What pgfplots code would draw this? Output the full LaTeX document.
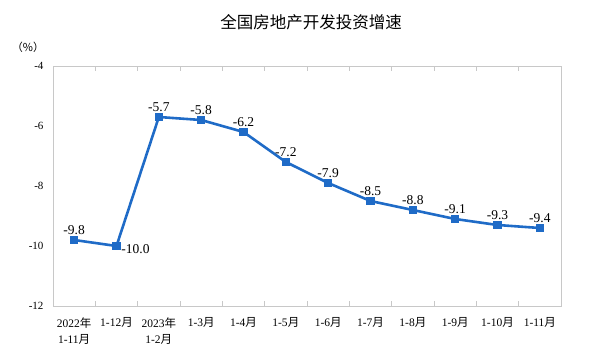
\documentclass[border=0pt]{standalone}
\usepackage{pgfplots}
\pgfplotsset{compat=1.18}
\usepackage{fontspec}
\setmainfont{Liberation Serif}
\newfontfamily\cjk{Noto Sans CJK SC}
\definecolor{lineblue}{HTML}{1F6BC7}
\definecolor{framegray}{HTML}{C8C8C8}
\newcommand{\nian}{{\cjk 年}}
\newcommand{\yue}{{\cjk 月}}
\begin{document}
\begin{tikzpicture}
\path[use as bounding box] (-53bp,-58bp) rectangle (547bp,306bp);
\begin{axis}[
  at={(0,0)}, anchor=south west,
  scale only axis, width=508bp, height=240bp,
  xmin=-0.5, xmax=11.5, ymin=-12, ymax=-4,
  axis line style={framegray, line width=0.8bp},
  xtick={0,...,11},
  xticklabels={{2022\nian\\1-11\yue},{1-12\yue},{2023\nian\\1-2\yue},{1-3\yue},{1-4\yue},{1-5\yue},{1-6\yue},{1-7\yue},{1-8\yue},{1-9\yue},{1-10\yue},{1-11\yue}},
  x tick label style={align=center, font=\fontsize{11.5bp}{16bp}\selectfont, anchor=north, yshift=-8bp},
  major x tick style={draw=none},
  minor xtick={0.5,1.5,...,10.5},
  minor x tick style={framegray, line width=0.8bp},
  minor tick length=5bp,
  ytick={-12,-10,-8,-6,-4},
  major y tick style={draw=none},
  y tick label style={font=\fontsize{11bp}{13bp}\selectfont, xshift=-6bp},
  /pgf/number format/assume math mode=true,
  yticklabel={\pgfmathprintnumber{\tick}},
  clip=false,
]
\addplot[lineblue, line width=2.6bp, mark=square*, mark size=2.8bp,
  nodes near coords={\pgfmathprintnumber[fixed,precision=1,fixed zerofill,assume math mode=true]{\pgfplotspointmeta}},
  every node near coord/.append style={text=black, font=\fontsize{13.5bp}{16bp}\selectfont, anchor=south, yshift=1bp},
  coordinate style/.condition={\coordindex==1}{xshift=19bp, yshift=-13bp},
] coordinates {
(0,-9.8) (1,-10.0) (2,-5.7) (3,-5.8) (4,-6.2) (5,-7.2) (6,-7.9) (7,-8.5) (8,-8.8) (9,-9.1) (10,-9.3) (11,-9.4)
};
\end{axis}
\node at (258bp,284bp) {\cjk\fontsize{16.5bp}{19bp}\selectfont 全国房地产开发投资增速};
\node at (-25bp,259bp) {\cjk\fontsize{11bp}{13bp}\selectfont （\%）};
\end{tikzpicture}
\end{document}
